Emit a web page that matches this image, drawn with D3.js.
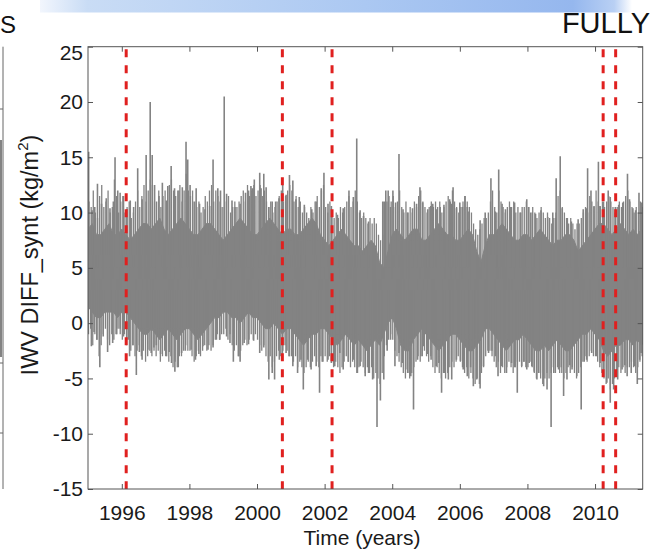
<!DOCTYPE html>
<html><head><meta charset="utf-8">
<script src="https://cdn.jsdelivr.net/npm/d3@7"></script>
<style>body{margin:0;background:#fff}svg{display:block}</style>
</head><body><svg id="c" width="653" height="552"></svg>
<script>
// ---------------- data ----------------
const yearTicks = [1996, 1998, 2000, 2002, 2004, 2006, 2008, 2010];
const valueTicks = [-15, -10, -5, 0, 5, 10, 15, 20, 25];
const breakYears = [1996.13, 2000.75, 2002.22, 2010.24, 2010.61];
const bandStartYear = 1995;
const coreStepYears = 0.125;     // core band samples: 8 per year
const fringeStepYears = 0.0625;  // fringe samples: 16 per year
// solid core of the daily series (upper / lower edge), every 1/8 year
const coreTop = [
  8.5, 9, 8, 8, 8.5, 9, 8, 8,
  8.5, 8, 7.5, 8, 8.5, 9, 9, 8.5,
  9, 9.5, 8.5, 8, 8.5, 9, 9.5, 9,
  8.5, 8, 8, 8.5, 9, 9, 8.5, 8,
  7.5, 8, 8.5, 9, 9.5, 9, 8.5, 8,
  8, 8.5, 9, 9.5, 9, 8.5, 8, 8.5,
  8.5, 8, 8, 8.5, 9, 9.5, 9, 8,
  7.5, 7, 7.5, 8, 8.5, 8, 7.5, 7,
  7, 6.5, 7, 7.5, 7, 5.5, 5, 6.5,
  8, 8.5, 8, 7.5, 8, 8.5, 8.5, 7.5,
  7.5, 8, 8.5, 9, 8.5, 8, 8, 7.5,
  7.5, 8, 8.5, 8, 6.5, 5.5, 7, 8,
  8, 8.5, 9, 8.5, 8, 7.5, 7.5, 8,
  8, 7.5, 8, 8.5, 8, 7.5, 7, 7.5,
  7.5, 8, 8, 7.5, 6.5, 7, 7.5, 8,
  8.5, 9, 9, 8.5, 8, 8.5, 9, 8.5,
  8, 8.5, 8, 8.5, 8
];
const coreBottom = [
  1.5, 1, 0.5, 0.5, 1, 1, 1, 0.5,
  1, 1, 0.5, 0, -0.5, -1, -1, -0.5,
  -1, -1.5, -1, -0.5, -1, -1.5, -1, -0.5,
  -0.5, -1, -1.5, -1, -0.5, 0, 0.5, 0.5,
  1, 1, 0.5, 0.5, 0, 0.5, 1, 0.5,
  0.5, 0, -0.5, -0.5, 0, -0.5, -1, -0.5,
  -0.5, -1, -1.5, -2, -1.5, -1, -1, -0.5,
  -0.5, -1, -1.5, -2, -1.5, -1, -1.5, -2,
  -1.5, -2, -2.5, -2, -1.5, -2, -1, 0,
  0.5, -0.5, -2, -2.5, -2.5, -1.5, -1, -0.5,
  -1, -1.5, -2, -2.5, -2, -1.5, -1, -1,
  -1.5, -2, -2.5, -2.5, -2, -1.5, -0.5, -0.5,
  -1, -1.5, -2, -2.5, -2, -1.5, -1.5, -1,
  -1.5, -2, -2.5, -2.5, -2, -2.5, -2, -1.5,
  -2, -2.5, -2.5, -2, -1.5, -1, -1, -0.5,
  -1, -1.5, -2.5, -3, -2.5, -2, -2, -1.5,
  -1.5, -2, -1.5, -2, -1.5
];
// dense fringe of daily values just outside the core, every 1/16 year
const fringeTop = [
  11, 10.5, 12, 10, 9.5, 11.5, 12.5, 10.5, 11, 12, 10, 10.5, 13, 11.5, 10, 11,
  11.5, 10, 10.5, 11, 9.5, 10, 11, 12, 10.5, 11.5, 12.5, 11, 12, 13, 12.5, 11,
  11, 12, 10.5, 11.5, 12, 11, 12.5, 13, 12, 11.5, 12, 12.5, 11, 12, 13.5, 12,
  11.5, 12, 11, 10.5, 11, 10, 10.5, 11.5, 11, 12, 12.5, 11, 12, 11.5, 11, 10.5,
  10.5, 11, 11.5, 10, 10.5, 11, 10.5, 11, 11.5, 12, 11, 12.5, 11.5, 12, 12.5, 11.5,
  12, 12.5, 11.5, 12, 11, 10.5, 11, 10, 10.5, 11, 11.5, 12, 11, 11.5, 12, 12.5,
  12, 11, 11.5, 10.5, 11, 10, 10.5, 10, 9.5, 10.5, 10, 11, 11.5, 10.5, 12, 12.5,
  10.5, 10, 11, 10, 9.5, 10, 9.5, 10.5, 10, 10.5, 11, 11.5, 10.5, 11, 12, 11,
  10, 9.5, 10, 9.5, 9, 9.5, 9, 9.5, 9, 8, 7.5, 8, 10, 11, 11.5, 11,
  11.5, 10.5, 11, 12, 10.5, 10, 11, 10, 10.5, 10, 11, 10.5, 11.5, 12, 11, 10.5,
  10, 10.5, 11, 10.5, 11, 10.5, 11, 10, 10.5, 11, 11.5, 11, 12, 11, 10.5, 10,
  10.5, 11, 11.5, 11, 10.5, 10, 9, 8.5, 8, 8.5, 9, 9.5, 9.5, 10, 11, 12,
  10.5, 10, 12, 11, 10.5, 10, 10.5, 11, 10.5, 11, 10, 10.5, 10, 10.5, 10.5, 11,
  10.5, 10, 10.5, 10, 9.5, 10, 10.5, 10, 9.5, 10, 9.5, 9, 9.5, 10, 11.5, 12,
  10.5, 10, 9.5, 9, 9.5, 9, 8.5, 9, 9, 9.5, 10, 10.5, 10, 11.5, 11, 10.5,
  12, 11, 10.5, 11, 10.5, 11, 11.5, 11, 10.5, 10, 10.5, 11, 10.5, 11, 11.5, 12,
  11, 10.5, 10, 10.5, 10, 11, 10.5
];
const fringeBottom = [
  -1, -0.5, -2, -1, -1.5, -3, -2, -1, -0.5, -1.5, -2, -1, -1.5, -1, -0.5, -1,
  -1.5, -1, -2, -1.5, -2.5, -2, -3, -2.5, -2, -3, -2.5, -3.5, -3, -2.5, -3, -2.5,
  -3, -2.5, -3.5, -3, -2.5, -3, -3.5, -3, -4, -3.5, -4, -3, -3, -2.5, -2, -2.5,
  -2.5, -3, -3.5, -3, -2.5, -3, -2.5, -2, -2.5, -2, -2.5, -2, -1.5, -1, -1.5, -1,
  -1, -0.5, -1.5, -1, -2, -2.5, -2, -3, -2.5, -2, -1.5, -2, -1.5, -1, -1.5, -1,
  -1.5, -2, -2.5, -2, -3, -3.5, -3, -4, -3.5, -3, -2.5, -3, -2.5, -2, -2.5, -3,
  -3, -3.5, -3, -4, -3.5, -4, -4.5, -4, -3.5, -4, -3.5, -3, -3.5, -4, -3, -3.5,
  -3, -3.5, -3, -3.5, -4, -3.5, -4, -4.5, -4, -3.5, -3, -3.5, -4, -3.5, -4, -4.5,
  -4, -3.5, -4, -4.5, -4, -4.5, -4, -5, -4.5, -5, -5.5, -4.5, -3, -2, -1.5, -1,
  -1.5, -2.5, -3, -3.5, -4, -4.5, -5, -4.5, -5, -4.5, -4, -3.5, -3, -3.5, -3, -2.5,
  -3, -3.5, -3, -4, -4.5, -4, -4.5, -5, -4.5, -5, -4.5, -4, -3.5, -4, -3.5, -3,
  -3.5, -4, -4.5, -4, -5, -4.5, -5, -5.5, -5, -5.5, -4.5, -4, -3, -2.5, -2.5, -3,
  -3.5, -4, -3.5, -4.5, -4, -4.5, -4, -3.5, -4, -4.5, -4, -3.5, -3.5, -4, -3.5, -4,
  -4, -3.5, -4, -4.5, -5, -4.5, -5, -5.5, -5, -4.5, -5, -4.5, -4, -4.5, -4, -4.5,
  -4.5, -5, -4.5, -4, -4.5, -4, -4.5, -5, -4.5, -4, -3.5, -3, -3.5, -3, -2.5, -3,
  -3, -3.5, -4, -4.5, -5, -5.5, -5, -6, -5.5, -5, -4.5, -4, -4.5, -4, -4.5, -4,
  -4, -3.5, -4, -4.5, -4, -3.5, -3
];
// isolated daily peaks above the core [year, kg/m2]
const spikesUp = [
  [1995.02,15.5],[1995.12,10.2],[1995.2,10.5],[1995.28,12.6],[1995.4,10.8],[1995.54,11.3],[1995.65,10.4],[1995.75,11],[1995.8,15.0],[1995.88,12],[1995.95,11.8],
  [1996.05,11.5],[1996.15,10.3],[1996.25,11.1],[1996.35,10.5],[1996.47,14.0],[1996.6,11.2],[1996.72,15.2],[1996.84,20.0],[1996.9,15.2],[1996.97,12.5],
  [1997.1,11.5],[1997.2,12.7],[1997.32,11.1],[1997.36,12.4],[1997.46,14.2],[1997.56,12.2],[1997.69,12],[1997.79,12.3],[1997.9,16.4],[1997.95,14.8],
  [1998.02,12.5],[1998.1,11],[1998.2,12.2],[1998.3,10.8],[1998.46,10.3],[1998.6,10.6],[1998.7,14.8],[1998.84,12.2],[1998.92,12],
  [1999.03,20.5],[1999.1,11.7],[1999.26,11.1],[1999.35,10.5],[1999.5,10.8],[1999.66,11.8],[1999.75,12],[1999.82,12.4],[1999.87,12.2],[1999.92,13.0],
  [2000.08,13.6],[2000.12,12.2],[2000.2,13.5],[2000.27,12.3],[2000.35,10.5],[2000.45,11],[2000.55,11],[2000.65,11.3],[2000.76,12.5],[2000.86,11.6],[2000.96,13.4],
  [2001.06,12.9],[2001.15,11.2],[2001.25,11.4],[2001.4,10.7],[2001.62,10.3],[2001.75,11],[2001.9,12.2],[2001.98,13.6],
  [2002.1,10.8],[2002.2,10.6],[2002.38,9.8],[2002.55,10.4],[2002.72,12],[2002.85,11.4],[2002.95,16.7],
  [2003.05,10.2],[2003.15,9.7],[2003.3,9.2],[2003.72,11],[2003.77,11],[2003.81,12],[2003.88,12],[2003.95,10.5],
  [2004.02,12],[2004.1,10.9],[2004.2,15.3],[2004.32,10.3],[2004.45,10],[2004.6,10.4],[2004.72,10.8],[2004.82,12.3],[2004.9,10.9],
  [2005.05,10.3],[2005.14,10.6],[2005.2,10.8],[2005.3,10.3],[2005.42,10.5],[2005.53,10.7],[2005.7,11.2],[2005.75,10.8],[2005.8,12.3],[2005.9,10.4],
  [2006.0,10.9],[2006.08,10.5],[2006.15,11.5],[2006.22,10.5],[2006.27,10.1],[2006.6,9.3],[2006.75,10],[2006.92,13.1],
  [2007.05,10.1],[2007.15,13.9],[2007.25,10.8],[2007.35,10.3],[2007.5,10.5],[2007.62,10.9],[2007.8,10],[2007.98,11.2],
  [2008.04,10.5],[2008.14,10],[2008.24,9.9],[2008.4,10.2],[2008.6,9.6],[2008.75,10],[2008.84,9.5],[2008.85,13.1],[2008.97,15.1],
  [2009.03,10.4],[2009.18,9.5],[2009.3,9.2],[2009.5,9.4],[2009.65,10.3],[2009.74,10.4],[2009.78,14.0],[2009.88,12],[2009.97,10.6],
  [2010.1,14.6],[2010.15,10.6],[2010.25,11],[2010.39,12],[2010.45,11.4],[2010.6,10.5],[2010.7,10.7],[2010.82,10.9],[2010.96,13.5],
  [2011.02,11.2],[2011.12,10.4],[2011.2,10.2],[2011.3,11.8],[2011.38,10.9]
];
// isolated daily minima below the core [year, kg/m2]
const spikesDown = [
  [1995.1,-2.1],[1995.18,-0.8],[1995.26,-1.5],[1995.35,-4.0],[1995.45,-1.2],[1995.58,-2.6],[1995.73,-1.8],[1995.85,-1],[1995.95,-0.5],
  [1996.05,-1.2],[1996.15,-1.5],[1996.23,-3],[1996.33,-2],[1996.43,-4.7],[1996.52,-2.6],[1996.6,-3.3],[1996.77,-2.4],[1996.87,-2.7],[1996.95,-2.2],
  [1997.02,-2],[1997.15,-2.8],[1997.3,-3],[1997.4,-2.6],[1997.47,-3.6],[1997.57,-4.4],[1997.67,-4],[1997.77,-2.7],[1997.88,-2.5],
  [1998.05,-2.4],[1998.18,-3.3],[1998.28,-2.8],[1998.4,-2.1],[1998.55,-2.4],[1998.7,-2.2],[1998.8,-1.5],[1998.9,-1.5],
  [1999.1,-1.2],[1999.2,-1.8],[1999.3,-3.5],[1999.45,-3],[1999.5,-3.5],[1999.62,-1.8],[1999.75,-1.9],[1999.9,-1.6],
  [2000.08,-2.7],[2000.2,-2.2],[2000.35,-5.1],[2000.45,-4.5],[2000.52,-5.1],[2000.66,-3.3],[2000.75,-2.8],[2000.86,-2.7],[2000.95,-3],
  [2001.06,-3.9],[2001.2,-4.5],[2001.3,-3.3],[2001.37,-6.0],[2001.5,-3.3],[2001.6,-4.2],[2001.75,-3.9],[2001.85,-6.3],[2001.93,-3.5],
  [2002.1,-3.3],[2002.2,-3.6],[2002.3,-3.9],[2002.45,-2.7],[2002.55,-4.2],[2002.7,-3.5],[2002.85,-3.3],[2002.97,-4.5],
  [2003.05,-3.9],[2003.2,-4.8],[2003.3,-4.5],[2003.42,-5.1],[2003.55,-9.4],[2003.65,-7],[2003.75,-5.1],[2003.85,-2.5],[2003.95,-1.5],
  [2004.08,-3.9],[2004.2,-2.7],[2004.3,-3.6],[2004.4,-4.2],[2004.5,-4.5],[2004.55,-4.8],[2004.63,-7.8],[2004.75,-3.3],[2004.85,-3],[2004.92,-2.1],
  [2005.05,-2.8],[2005.15,-3.3],[2005.3,-3.9],[2005.38,-3.6],[2005.46,-6.3],[2005.55,-4.5],[2005.66,-5.1],[2005.76,-5.1],[2005.9,-3.3],
  [2006.02,-3.4],[2006.1,-4.2],[2006.22,-4.8],[2006.32,-4],[2006.4,-5.7],[2006.5,-5.1],[2006.6,-5.9],[2006.7,-3.9],[2006.85,-2.7],[2006.95,-2.5],
  [2007.05,-3],[2007.13,-4.8],[2007.23,-3.9],[2007.38,-4.5],[2007.53,-3.6],[2007.62,-4],[2007.7,-6.3],[2007.83,-3.9],[2007.9,-3.5],[2007.98,-4.2],
  [2008.05,-3.6],[2008.13,-3.9],[2008.2,-4.4],[2008.28,-5.1],[2008.38,-4.5],[2008.48,-5.7],[2008.58,-6],[2008.7,-9.4],[2008.78,-4.5],[2008.92,-4.2],
  [2009.0,-4],[2009.07,-6.6],[2009.17,-5.1],[2009.25,-3.8],[2009.32,-4.2],[2009.46,-4.8],[2009.59,-7.8],[2009.68,-3.5],[2009.75,-3.3],[2009.9,-2.7],
  [2010.05,-3],[2010.15,-3.6],[2010.25,-4.2],[2010.35,-5.4],[2010.45,-7.2],[2010.55,-6],[2010.67,-5.1],[2010.8,-4.2],[2010.88,-3.8],[2010.95,-4.8],
  [2011.07,-4.5],[2011.17,-3.9],[2011.25,-5.5],[2011.32,-3.3],[2011.37,-2.7]
];
const xTitle = "Time (years)";
const titleLeft = "S";
const titleRight = "FULLY";

// ---------------- drawing ----------------
const svg = d3.select("#c");
const FONT = "'Liberation Sans', Arial, Helvetica, sans-serif";
const grey = "#838383";
const L = 88, R = 642.7, T = 46.7, B = 489;

const x = d3.scaleLinear().domain([1995, 2011.41]).range([L, R]);
const y = d3.scaleLinear().domain([-15, 25]).range([B, T]);

// banner gradient at top
const defs = svg.append("defs");
const grad = defs.append("linearGradient").attr("id", "ban").attr("x1", "0").attr("x2", "1");
[["0%", "#f2f6fd"], ["8%", "#c9dcf5"], ["55%", "#abc8f2"], ["90%", "#95b7ee"], ["97%", "#b9d0f4"], ["100%", "#ffffff"]]
  .forEach(([o, c]) => grad.append("stop").attr("offset", o).attr("stop-color", c));
svg.append("rect").attr("x", 40).attr("y", 0).attr("width", 592).attr("height", 12.5).attr("fill", "url(#ban)");

svg.append("text").attr("x", 0).attr("y", 33).attr("text-anchor", "start")
  .attr("font-family", FONT).attr("font-size", 24).attr("fill", "#111").text(titleLeft);
svg.append("text").attr("x", 650).attr("y", 33).attr("text-anchor", "end")
  .attr("font-family", FONT).attr("font-size", 29).attr("fill", "#111").text(titleRight);

// partial neighbouring panel on the far left
svg.append("rect").attr("x", 0).attr("y", 140).attr("width", 2).attr("height", 217).attr("fill", grey);
svg.append("line").attr("x1", 3).attr("x2", 3).attr("y1", T).attr("y2", B).attr("stroke", "#666").attr("stroke-width", 1);
[109, 363, 433].forEach(v => svg.append("line").attr("x1", 0).attr("x2", 3).attr("y1", v).attr("y2", v).attr("stroke", "#666"));

defs.append("clipPath").attr("id", "plotclip").append("rect")
  .attr("x", L).attr("y", T).attr("width", R - L).attr("height", B - T);

const plot = svg.append("g").attr("clip-path", "url(#plotclip)");

const bandData = coreTop.map((t, i) => ({ t: bandStartYear + i * coreStepYears, hi: t, lo: coreBottom[i] }));
plot.append("path").datum(bandData)
  .attr("d", d3.area().x(d => x(d.t)).y0(d => y(d.lo)).y1(d => y(d.hi)))
  .attr("fill", grey).attr("stroke", grey).attr("stroke-width", 1);

// fringe (dense daily lines)
const fringePath = d3.path();
fringeTop.forEach((v, i) => {
  const t = bandStartYear + (i + 0.5) * fringeStepYears;
  fringePath.moveTo(x(t), y(4)); fringePath.lineTo(x(t), y(v));
});
fringeBottom.forEach((v, i) => {
  const t = bandStartYear + (i + 0.25) * fringeStepYears;
  fringePath.moveTo(x(t), y(4)); fringePath.lineTo(x(t), y(v));
});
plot.append("path").attr("d", fringePath.toString()).attr("stroke", grey).attr("stroke-width", 1.3).attr("fill", "none");

const spikePath = d3.path();
spikesUp.forEach(([t, v]) => { spikePath.moveTo(x(t), y(5)); spikePath.lineTo(x(t), y(v)); });
spikesDown.forEach(([t, v]) => { spikePath.moveTo(x(t), y(3)); spikePath.lineTo(x(t), y(v)); });
plot.append("path").attr("d", spikePath.toString()).attr("stroke", grey).attr("stroke-width", 1.6).attr("fill", "none");

// red dashed break lines
plot.selectAll("line.brk").data(breakYears).join("line").attr("class", "brk")
  .attr("x1", d => x(d)).attr("x2", d => x(d)).attr("y1", T + 2.5).attr("y2", B)
  .attr("stroke", "#e0201f").attr("stroke-width", 3).attr("stroke-dasharray", "8,8");

// axes (ticks inside, box)
const axColor = "#555";
function styleAxis(g) {
  g.select(".domain").remove();
  g.selectAll(".tick line").attr("stroke", axColor);
  g.selectAll("text").attr("font-family", FONT).attr("font-size", 21).attr("fill", "#1a1a1a");
}
svg.append("g").attr("transform", `translate(0,${B})`)
  .call(d3.axisBottom(x).tickValues(yearTicks).tickFormat(d3.format("d")).tickSize(-5).tickPadding(16))
  .call(styleAxis);
svg.append("g").attr("transform", `translate(0,${T})`)
  .call(d3.axisTop(x).tickValues(yearTicks).tickFormat("").tickSize(-5))
  .call(styleAxis);
const yAx = svg.append("g").attr("transform", `translate(${L},0)`)
  .call(d3.axisLeft(y).tickValues(valueTicks).tickFormat(d3.format("d")).tickSize(-5).tickPadding(5))
  .call(styleAxis);
yAx.selectAll(".tick text").filter(d => d === 25).attr("dy", "0.62em");
yAx.selectAll(".tick text").text(d => d < 0 ? "-" + Math.abs(d) : d);
svg.append("g").attr("transform", `translate(${R},0)`)
  .call(d3.axisRight(y).tickValues(valueTicks).tickFormat("").tickSize(-5))
  .call(styleAxis);
svg.append("rect").attr("x", L).attr("y", T).attr("width", R - L).attr("height", B - T)
  .attr("fill", "none").attr("stroke", axColor).attr("stroke-width", 1);

// axis titles
svg.append("text").attr("x", 362).attr("y", 545).attr("text-anchor", "middle")
  .attr("font-family", FONT).attr("font-size", 21).attr("fill", "#1a1a1a").text(xTitle);

const yt = svg.append("text").attr("transform", "translate(38,255) rotate(-90)")
  .attr("text-anchor", "middle").attr("font-family", FONT).attr("font-size", 23.5).attr("fill", "#1a1a1a");
yt.append("tspan").text("IWV DIFF_synt (kg/m");
yt.append("tspan").attr("font-size", 15).attr("dy", -10).text("2");
yt.append("tspan").attr("dy", 10).text(")");
</script>
</body></html>
